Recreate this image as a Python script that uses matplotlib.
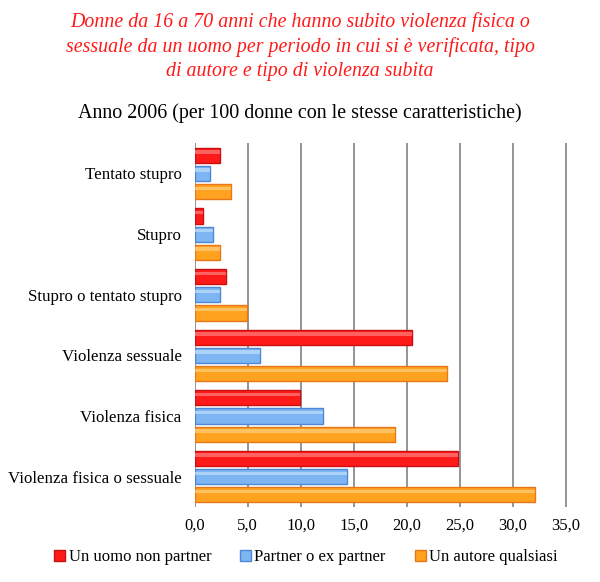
import matplotlib
matplotlib.use("Agg")
import matplotlib.pyplot as plt
import numpy as np

categories = ["Tentato stupro", "Stupro", "Stupro o tentato stupro",
              "Violenza sessuale", "Violenza fisica", "Violenza fisica o sessuale"]
series_names = ["Un uomo non partner", "Partner o ex partner", "Un autore qualsiasi"]
non_partner = [2.4, 0.8, 3.0, 20.5, 9.9, 24.8]
partner = [1.4, 1.7, 2.4, 6.2, 12.1, 14.4]
qualsiasi = [3.4, 2.4, 4.9, 23.8, 18.9, 32.1]
xticks = [0, 5, 10, 15, 20, 25, 30, 35]

plt.rcParams['font.family'] = ['Liberation Serif', 'DejaVu Serif']

fig = plt.figure(figsize=(6, 5.82), dpi=100)
ax = fig.add_axes([0.3245, 0.129, 0.6235, 0.625])

face = ["#FF1A1A", "#7DB6F2", "#FFA21F"]
edge = ["#C81010", "#4F86D6", "#E8761A"]
hilite = ["#FF8080", "#C2DEFB", "#FFD080"]
offsets = [-0.3, 0.0, 0.3]
h = 0.25
y = np.arange(len(categories))
for vals, off, fc, ec, hc, name in zip([non_partner, partner, qualsiasi], offsets, face, edge, hilite, series_names):
    ax.barh(y + off, vals, height=h, color=fc, edgecolor=ec, linewidth=1.0, label=name, zorder=3)
    ax.barh(y + off - h * 0.22, vals, height=h * 0.22, color=hc, linewidth=0, zorder=4, alpha=0.7)

ax.set_ylim(len(categories) - 0.5, -0.5)
ax.set_xlim(0, 35.3)
ax.set_xticks(xticks)
ax.set_xticklabels([f"{v:.1f}".replace(".", ",") for v in xticks], fontsize=12)
ax.set_yticks(y)
ax.set_yticklabels(categories, fontsize=12.2)
ax.tick_params(axis='both', length=0)
ax.tick_params(axis='x', pad=8)
ax.tick_params(axis='y', pad=9.5)
for s in ax.spines.values():
    s.set_visible(False)
for xv in xticks:
    ax.axvline(xv, color="#8C8C8C", linewidth=1.3, zorder=1)

fig.text(0.5, 0.98, "Donne da 16 a 70 anni che hanno subito violenza fisica o\n"
         "sessuale da un uomo per periodo in cui si è verificata, tipo\n"
         "di autore e tipo di violenza subita",
         ha='center', va='top', color="#FF1A1A", fontsize=14.3, style='italic', linespacing=1.36)
fig.text(0.5, 0.805, "Anno 2006 (per 100 donne con le stesse caratteristiche)",
         ha='center', va='center', color="black", fontsize=14.4)

handles = [plt.Rectangle((0, 0), 1, 1, facecolor=fc, edgecolor=ec) for fc, ec in zip(face, edge)]
fig.legend(handles, series_names, loc='center', bbox_to_anchor=(0.51, 0.043), ncol=3,
           frameon=False, fontsize=12, handlelength=0.65, handleheight=0.65,
           handletextpad=0.2, columnspacing=1.75)

fig.savefig("out.png", dpi=100)
